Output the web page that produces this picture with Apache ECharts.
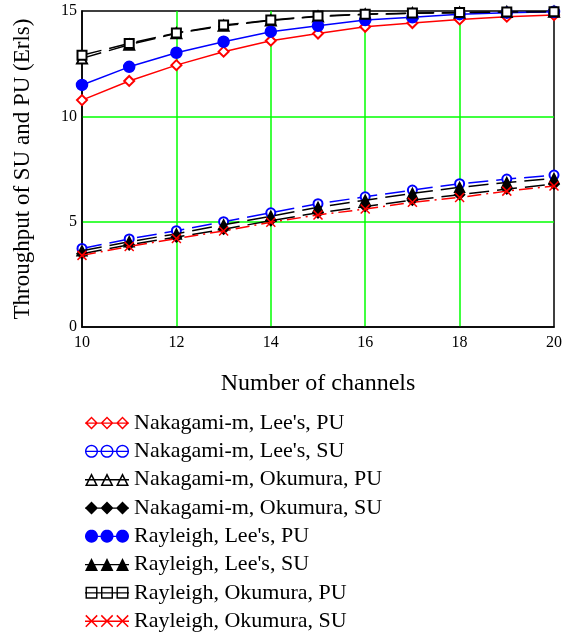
<!DOCTYPE html>
<html>
<head>
<meta charset="utf-8">
<script src="https://cdn.jsdelivr.net/npm/echarts@6/dist/echarts.min.js"></script>
<style>
html,body{margin:0;padding:0;background:#fff;}
#chart{width:566px;height:633px;}
</style>
</head>
<body>
<div id="chart"></div>
<script>
// ---- data ----
const channels = [10, 11, 12, 13, 14, 15, 16, 17, 18, 19, 20];
const seriesNames = [
  "Nakagami-m, Lee's, PU",
  "Nakagami-m, Lee's, SU",
  "Nakagami-m, Okumura, PU",
  "Nakagami-m, Okumura, SU",
  "Rayleigh, Lee's, PU",
  "Rayleigh, Lee's, SU",
  "Rayleigh, Okumura, PU",
  "Rayleigh, Okumura, SU"
];
const nakaLeePU = [10.77, 11.68, 12.43, 13.07, 13.59, 13.93, 14.25, 14.43, 14.60, 14.73, 14.81];
const nakaLeeSU = [3.73, 4.18, 4.57, 5.00, 5.42, 5.85, 6.18, 6.50, 6.80, 7.02, 7.21];
const nakaOkuPU = [12.75, 13.40, 13.94, 14.30, 14.55, 14.74, 14.84, 14.89, 14.92, 14.95, 14.97];
const nakaOkuSU = [3.48, 3.90, 4.27, 4.64, 5.05, 5.42, 5.72, 6.02, 6.28, 6.55, 6.78];
const rayLeePU  = [11.49, 12.35, 13.02, 13.54, 14.02, 14.30, 14.57, 14.70, 14.85, 14.92, 14.96];
const rayLeeSU  = [3.62, 4.05, 4.42, 4.85, 5.26, 5.68, 6.02, 6.34, 6.63, 6.86, 7.05];
const rayOkuPU  = [12.90, 13.46, 13.96, 14.33, 14.57, 14.76, 14.85, 14.90, 14.93, 14.95, 14.97];
const rayOkuSU  = [3.40, 3.82, 4.20, 4.56, 4.97, 5.32, 5.60, 5.92, 6.15, 6.45, 6.69];
const xTicks = [10, 12, 14, 16, 18, 20];
const yTicks = [0, 5, 10, 15];

// ---- legend icon paths (three markers joined by a line) ----
const IW = 44, IH = 13, R = 6.5;
const centers = [R, IW / 2, IW - R];
function area(p){let s=0;for(let i=0;i<p.length;i++){const a=p[i],b=p[(i+1)%p.length];s+=a[0]*b[1]-b[0]*a[1];}return s;}
function orient(p, pos){const s=area(p);return (pos?(s>0):(s<0))?p:p.slice().reverse();}
function sub(p){return 'M'+p.map(q=>q[0].toFixed(2)+' '+q[1].toFixed(2)).join(' L')+' Z ';}
function scaleAbout(p,c,k){return p.map(q=>[c[0]+(q[0]-c[0])*k,c[1]+(q[1]-c[1])*k]);}
function shape(type, cx){
  const cy = IH/2;
  if(type==='circle'){const p=[];for(let i=0;i<28;i++){const a=i/28*Math.PI*2;p.push([cx+R*Math.cos(a),cy+R*Math.sin(a)]);}return {p,c:[cx,cy],k:0.78};}
  if(type==='diamond'){return {p:[[cx,0],[cx+R,cy],[cx,IH],[cx-R,cy]],c:[cx,cy],k:0.68};}
  if(type==='triangle'){return {p:[[cx,0],[cx+R,IH],[cx-R,IH]],c:[cx,IH-4.02],k:0.62};}
  if(type==='rect'){return {p:[[cx-R+0.5,0.5],[cx+R-0.5,0.5],[cx+R-0.5,IH-0.5],[cx-R+0.5,IH-0.5]],c:[cx,cy],k:0.76};}
}
function legendPath(type, hollow){
  let d = sub(orient([[0,6],[IW,6],[IW,7.3],[0,7.3]],true));
  centers.forEach(cx=>{
    if(type==='cross'){
      const t=0.75, e=R-0.8, cy=IH/2;
      [[1,1],[1,-1]].forEach(([sx,sy])=>{
        const ax=cx-e*sx, ay=cy-e*sy, bx=cx+e*sx, by=cy+e*sy;
        const L=Math.hypot(bx-ax,by-ay), nx=-(by-ay)/L*t, ny=(bx-ax)/L*t;
        d+=sub(orient([[ax+nx,ay+ny],[bx+nx,by+ny],[bx-nx,by-ny],[ax-nx,ay-ny]],true));
      });
      return;
    }
    const s=shape(type,cx);
    d+=sub(orient(s.p,true));
    if(hollow){d+=sub(orient(scaleAbout(s.p,s.c,s.k),false));d+=sub(orient([[cx-R*0.7,6],[cx+R*0.7,6],[cx+R*0.7,7.3],[cx-R*0.7,7.3]],true));}
  });
  return 'path://'+d;
}

const serif = '"Liberation Serif", "Times New Roman", serif';
const RED='#ff0000', BLUE='#0000ff', BLACK='#000000';
const dash=[20,8], dashDot=[14,5,2,5];
const defs = [
  {data:nakaLeePU, color:RED,   symbol:'emptyDiamond',  size:10, line:'solid', icon:legendPath('diamond',true)},
  {data:nakaLeeSU, color:BLUE,  symbol:'emptyCircle',   size:9,  line:dash,    icon:legendPath('circle',true)},
  {data:nakaOkuPU, color:BLACK, symbol:'emptyTriangle', size:10, line:dash,    icon:legendPath('triangle',true)},
  {data:nakaOkuSU, color:BLACK, symbol:'diamond',       size:10, line:dash,    icon:legendPath('diamond',false)},
  {data:rayLeePU,  color:BLUE,  symbol:'circle',        size:11, line:'solid', icon:legendPath('circle',false)},
  {data:rayLeeSU,  color:BLACK, symbol:'triangle',      size:10, line:dash,    icon:legendPath('triangle',false)},
  {data:rayOkuPU,  color:BLACK, symbol:'emptyRect',     size:9,  line:dash,    icon:legendPath('rect',true)},
  {data:rayOkuSU,  color:RED,   symbol:'path://M0,0L10,10M10,0L0,10', size:9, line:dashDot, icon:legendPath('cross',false)}
];

const chart = echarts.init(document.getElementById('chart'), null, {renderer:'canvas'});
chart.setOption({
  animation:false,
  backgroundColor:'#fff',
  grid:{left:82, right:12, top:11, bottom:306, show:true, borderColor:'#000', borderWidth:1.5, backgroundColor:'transparent', containLabel:false},
  xAxis:{
    type:'value', min:xTicks[0], max:xTicks[xTicks.length-1], interval:xTicks[1]-xTicks[0],
    name:'Number of channels', nameLocation:'middle', nameGap:45,
    nameTextStyle:{fontFamily:serif, fontSize:24, color:'#000'},
    axisLine:{show:true, lineStyle:{color:'#000', width:1.5}},
    axisTick:{show:false},
    axisLabel:{fontFamily:serif, fontSize:16, color:'#000', margin:8},
    splitLine:{show:true, showMinLine:false, showMaxLine:false, lineStyle:{color:'#00ff00', width:1.5}}
  },
  yAxis:{
    type:'value', min:yTicks[0], max:yTicks[yTicks.length-1], interval:yTicks[1]-yTicks[0],
    name:'Throughput of SU and PU (Erls)', nameLocation:'middle', nameGap:48,
    nameTextStyle:{fontFamily:serif, fontSize:23, color:'#000'},
    axisLine:{show:true, lineStyle:{color:'#000', width:1.5}},
    axisTick:{show:false},
    axisLabel:{fontFamily:serif, fontSize:16, color:'#000', margin:5},
    splitLine:{show:true, showMinLine:false, showMaxLine:false, lineStyle:{color:'#00ff00', width:1.5}}
  },
  legend:{
    orient:'vertical', left:85, top:412, padding:0, itemWidth:IW, itemHeight:IH, itemGap:6.3,
    selectedMode:false,
    itemStyle:{borderWidth:0},
    textStyle:{fontFamily:serif, fontSize:22, color:'#000', lineHeight:22},
    data: seriesNames.map((n,i)=>({name:n, icon:defs[i].icon}))
  },
  series: defs.map((d,i)=>({
    type:'line', name:seriesNames[i],
    data: channels.map((x,j)=>[x, d.data[j]]),
    symbol:d.symbol, symbolSize:d.size, showAllSymbol:true,
    lineStyle:{color:d.color, width:1.5, type:d.line},
    itemStyle:{color:d.color, borderColor:d.color, borderWidth:1.5},
    z: 2 + i
  }))
});
</script>
</body>
</html>
